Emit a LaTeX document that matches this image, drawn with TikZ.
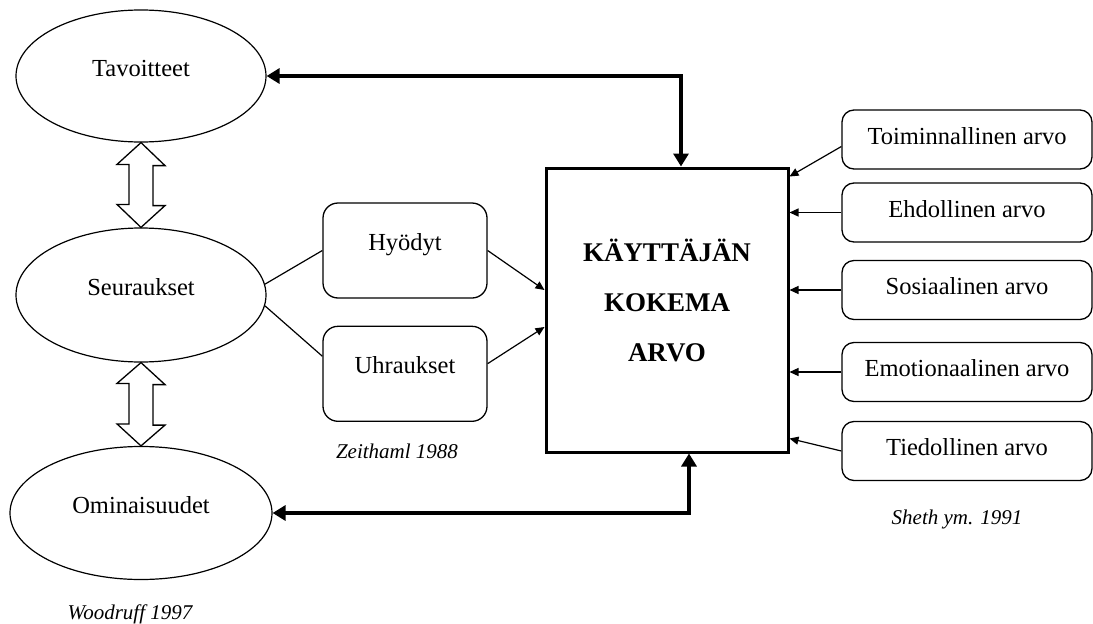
\documentclass[tikz,border=0pt]{standalone}
\usepackage{fontspec}
\setmainfont{Liberation Serif}
\usetikzlibrary{arrows.meta,positioning,shapes.geometric}

\begin{document}
\begin{tikzpicture}[
    x=1pt, y=-1pt,
    font=\fontsize{24.5}{28}\selectfont,
    oval/.style={draw, ellipse, line width=1.2pt, inner sep=0pt,
                 minimum width=250pt, minimum height=132pt,
                 text height=12pt, text depth=12pt},
    gain/.style={draw, rounded corners=15pt, line width=1.3pt,
                 minimum width=164pt, minimum height=95pt,
                 text height=10pt, text depth=10pt},
    valuebox/.style={draw, rounded corners=12pt, line width=1.3pt,
                 minimum width=250pt, minimum height=59pt,
                 text height=13pt, text depth=4pt},
    core/.style={draw, line width=3pt, minimum width=242pt, minimum height=284pt},
    source/.style={font=\fontsize{21}{24}\selectfont\itshape},
    link/.style={line width=1.2pt},
    line/.style={-{Triangle[length=9pt,width=8pt]}, line width=1.2pt},
    heavy/.style={{Triangle[length=13pt,width=15pt]}-{Triangle[length=13pt,width=15pt]},
                  line width=4.5pt},
    twoway/.style={draw, line width=1.3pt, fill=white}
]
\useasboundingbox (0,0) rectangle (1093,624);

% means-end chain
\node[oval]                    (tav) at (141,76)  {Tavoitteet};
\node[oval, minimum height=134pt] (seu) at (141,295) {Seuraukset};
\node[oval, minimum width=262pt, minimum height=133pt] (omi) at (141,513) {Ominaisuudet};
\node[source] (wood) at (130,614) {Woodruff 1997};

% benefits and sacrifices
\node[gain]                (hyo) at (405,250.5) {Hyödyt};
\node[gain, below=27pt of hyo] (uhr)           {Uhraukset};
\node[source] (zeit) at (397,451) {Zeithaml 1988};

% perceived value
\node[core] (kokema) at (667,310) {};
\node[align=center, font=\fontsize{27}{50}\selectfont\bfseries]
     (kktext) at ([yshift=9.5pt]kokema.center) {KÄYTTÄJÄN\\KOKEMA\\ARVO};

% consumption values
\node[valuebox] (toi) at (967,139.5) {Toiminnallinen arvo};
\node[valuebox] (ehd) at (967,212.5) {Ehdollinen arvo};
\node[valuebox] (sos) at (967,290)   {Sosiaalinen arvo};
\node[valuebox] (emo) at (967,372)   {Emotionaalinen arvo};
\node[valuebox] (tie) at (967,451)   {Tiedollinen arvo};
\node[source] (sheth) at (957,519) {Sheth ym. 1991};

\draw[twoway] (tav.south) -- ++(24,23) -- ++(-12,0) -- ++(0,40) -- ++(12,0)
    -- (seu.north) -- ++(-24,-23) -- ++(12,0) -- ++(0,-40) -- ++(-12,0) -- cycle;
\draw[twoway] (seu.south) -- ++(24,22) -- ++(-12,0) -- ++(0,40.5) -- ++(12,0)
    -- (omi.north) -- ++(-24,-22) -- ++(12,0) -- ++(0,-40.5) -- ++(-12,0) -- cycle;

\draw[heavy] (tav.east) -| ([xshift=14pt]kokema.north);
\draw[heavy] (omi.east) -| ([xshift=22pt]kokema.south);

\draw[link] (seu.5)  -- (hyo.west);
\draw[link] (seu.-5) -- (uhr.168);
\draw[line] (hyo.east) -- ([yshift=20pt]kokema.west);
\draw[line] (uhr.7)    -- ([yshift=-17pt]kokema.west);

\draw[line] ([yshift=-7pt]toi.west) -- ([yshift=-10pt]kokema.north east);
\draw[line] (ehd.west) -- (ehd.west -| kokema.east);
\draw[line] (sos.west) -- (sos.west -| kokema.east);
\draw[line] (emo.west) -- (emo.west -| kokema.east);
\draw[line] (tie.west) -- ([yshift=15pt]kokema.south east);
\end{tikzpicture}
\end{document}
